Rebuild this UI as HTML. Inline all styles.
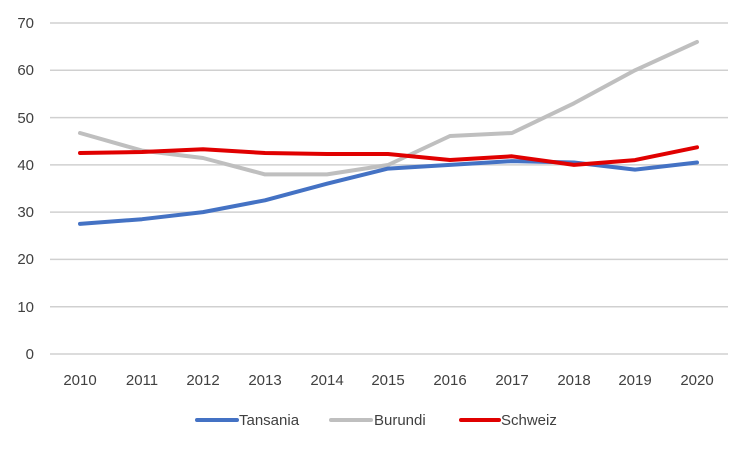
<!DOCTYPE html>
<html><head><style>
body{margin:0;background:#fff;}
svg text{font-family:"Liberation Sans",sans-serif;font-size:15px;fill:#404040;}
</style></head><body>
<svg width="750" height="450" xmlns="http://www.w3.org/2000/svg">
<g stroke="#d0d0d0" stroke-width="1.5">
<line x1="50" x2="728" y1="23" y2="23"/>
<line x1="50" x2="728" y1="70.3" y2="70.3"/>
<line x1="50" x2="728" y1="117.6" y2="117.6"/>
<line x1="50" x2="728" y1="164.9" y2="164.9"/>
<line x1="50" x2="728" y1="212.1" y2="212.1"/>
<line x1="50" x2="728" y1="259.4" y2="259.4"/>
<line x1="50" x2="728" y1="306.7" y2="306.7"/>
<line x1="50" x2="728" y1="354" y2="354"/>
</g>
<g text-anchor="end">
<text x="34" y="28">70</text><text x="34" y="75">60</text><text x="34" y="123">50</text>
<text x="34" y="170">40</text><text x="34" y="217">30</text><text x="34" y="264">20</text>
<text x="34" y="312">10</text><text x="34" y="359">0</text>
</g>
<g text-anchor="middle">
<text x="80" y="385">2010</text><text x="142" y="385">2011</text><text x="203" y="385">2012</text>
<text x="265" y="385">2013</text><text x="327" y="385">2014</text><text x="388" y="385">2015</text>
<text x="450" y="385">2016</text><text x="512" y="385">2017</text><text x="574" y="385">2018</text>
<text x="635" y="385">2019</text><text x="697" y="385">2020</text>
</g>
<g fill="none" stroke-width="4" stroke-linejoin="round" stroke-linecap="round">
<polyline stroke="#bfbfbf" points="80,133 142,150.6 203,158 265,174.4 327,174.4 388,165 450,136 512,133 574,103.3 635,70.3 697,41.9"/>
<polyline stroke="#4472c4" points="80,223.9 142,219.2 203,212.1 265,200.3 327,183.7 388,168.6 450,164.9 512,161.1 574,162.5 635,169.6 697,162.5"/>
<polyline stroke="#e00000" points="80,153 142,152 203,149.2 265,153 327,154 388,154 450,160 512,156.3 574,164.9 635,160.1 697,147.3"/>
</g>
<g stroke-width="4" stroke-linecap="round">
<line x1="197" x2="237" y1="420" y2="420" stroke="#4472c4"/>
<line x1="331" x2="371" y1="420" y2="420" stroke="#bfbfbf"/>
<line x1="461" x2="499" y1="420" y2="420" stroke="#e00000"/>
</g>
<text x="239" y="425">Tansania</text>
<text x="374" y="425">Burundi</text>
<text x="501" y="425">Schweiz</text>
</svg>
</body></html>
